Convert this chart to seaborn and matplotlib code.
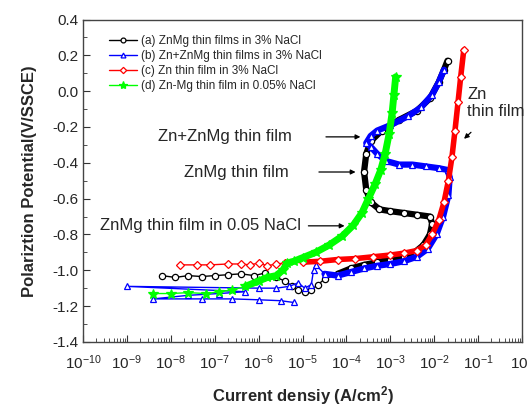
import numpy as np
import pandas as pd
import matplotlib
matplotlib.use('Agg')
import matplotlib.pyplot as plt
from matplotlib.lines import Line2D
from matplotlib.ticker import LogLocator, MultipleLocator, NullFormatter
import seaborn as sns

# (a) ZnMg thin films in 3% NaCl  -- log10 current, potential
a_logi = [-8.2, -7.9, -7.6, -7.3, -7.0, -6.7, -6.4, -6.1, -5.85, -5.6, -5.4, -5.25,
          -5.1, -4.95, -4.8, -4.65, -4.5, -4.2, -3.9, -3.6, -3.3, -3.0, -2.7, -2.45,
          -2.25, -2.1, -2.05, -2.1, -2.4, -2.7, -3.0, -3.25, -3.45, -3.55, -3.6,
          -3.55, -3.45, -3.2, -2.8, -2.4, -2.1, -1.9, -1.78, -1.7]
a_pot = [-1.03, -1.04, -1.03, -1.035, -1.03, -1.025, -1.02, -1.03, -1.015, -1.04, -1.06, -1.09,
         -1.11, -1.12, -1.11, -1.08, -1.05, -1.02, -0.99, -0.97, -0.955, -0.94, -0.925, -0.9,
         -0.86, -0.8, -0.74, -0.7, -0.69, -0.68, -0.67, -0.66, -0.62, -0.55, -0.45,
         -0.35, -0.28, -0.22, -0.16, -0.11, -0.04, 0.05, 0.12, 0.17]

# (b) Zn+ZnMg thin films in 3% NaCl
b_logi = [-5.2, -5.5, -6.0, -6.6, -7.3, -8.4, -7.6, -6.9, -6.3, -9.0, -6.0, -5.6,
          -5.3, -5.1, -4.95, -4.8, -4.75, -4.7, -4.5, -4.2, -3.9, -3.6, -3.3, -3.0,
          -2.7, -2.4, -2.15, -1.95, -1.8, -1.68, -1.65, -1.7, -1.9, -2.2, -2.5, -2.8,
          -3.1, -3.3, -3.45, -3.55, -3.45, -3.3, -3.0, -2.6, -2.3, -2.05, -1.9, -1.78]
b_pot = [-1.18, -1.17, -1.165, -1.16, -1.16, -1.16, -1.14, -1.13, -1.12, -1.09, -1.1, -1.1,
         -1.09, -1.07, -1.1, -1.08, -1.0, -0.97, -1.02, -1.03, -1.01, -0.99, -0.975, -0.965,
         -0.95, -0.925, -0.88, -0.8, -0.7, -0.58, -0.48, -0.44, -0.43, -0.42, -0.41, -0.41,
         -0.39, -0.35, -0.31, -0.29, -0.25, -0.22, -0.19, -0.14, -0.09, -0.02, 0.05, 0.12]

# (c) Zn thin film in 3% NaCl
c_logi = [-7.8, -7.4, -7.1, -6.7, -6.4, -6.2, -6.0, -5.8, -5.6, -5.4, -5.0, -4.6,
          -4.2, -3.8, -3.4, -3.0, -2.7, -2.4, -2.2, -2.05, -1.9, -1.78, -1.68, -1.6,
          -1.53, -1.46, -1.4, -1.33]
c_pot = [-0.97, -0.97, -0.97, -0.965, -0.965, -0.97, -0.96, -0.975, -0.965, -0.96, -0.955, -0.95,
         -0.94, -0.935, -0.925, -0.915, -0.905, -0.89, -0.86, -0.8, -0.72, -0.62, -0.5, -0.37,
         -0.22, -0.06, 0.08, 0.23]

# (d) Zn-Mg thin film in 0.05% NaCl
d_logi = [-8.4, -8.0, -7.6, -7.2, -6.9, -6.6, -6.3, -6.0, -5.8, -5.6, -5.45, -5.35,
          -5.2, -5.0, -4.7, -4.4, -4.1, -3.85, -3.65, -3.5, -3.35, -3.22, -3.12, -3.03,
          -2.96, -2.92, -2.88]
d_pot = [-1.13, -1.13, -1.125, -1.13, -1.12, -1.11, -1.09, -1.06, -1.04, -1.03, -1.0, -0.96,
         -0.95, -0.93, -0.9, -0.86, -0.81, -0.75, -0.68, -0.6, -0.52, -0.44, -0.35, -0.24,
         -0.12, -0.02, 0.08]

labels = ['(a) ZnMg thin films in 3% NaCl',
          '(b) Zn+ZnMg thin films in 3% NaCl',
          '(c) Zn thin film in 3% NaCl',
          '(d) Zn-Mg thin film in 0.05% NaCl']

sns.set_style('ticks')
plt.rcParams['font.family'] = ['Liberation Sans', 'DejaVu Sans']
plt.rcParams['mathtext.fontset'] = 'custom'
plt.rcParams['mathtext.rm'] = 'Liberation Sans'
plt.rcParams['mathtext.bf'] = 'Liberation Sans:bold'

fig = plt.figure(figsize=(5.28, 4.07), dpi=100)
ax = fig.add_axes([0.157, 0.160, 0.832, 0.792])
ax.set_xscale('log')

# colour, marker, face, marker size, index where the dense (thick) part starts, thick width
series = [
    (a_logi, a_pot, 'black', 'o', 'white', 4.5, 17, 4.5),
    (b_logi, b_pot, '#0000ff', '^', 'white', 4.5, 18, 4.5),
    (c_logi, c_pot, '#ff0000', 'D', 'white', 4, 10, 4),
    (d_logi, d_pot, '#00ff00', '*', '#00ff00', 7, 6, 5),
]
for logi, pot, col, mk, mfc, ms, k, lw in series:
    df = pd.DataFrame({'i': 10.0 ** np.array(logi), 'E': pot})
    # dense part of the scan drawn as a thick band under the markers
    sns.lineplot(data=df.iloc[k:], x='i', y='E', sort=False, estimator=None, ax=ax,
                 color=col, linewidth=lw)
    sns.lineplot(data=df, x='i', y='E', sort=False, estimator=None, ax=ax,
                 color=col, linewidth=1, marker=mk, markersize=ms,
                 markerfacecolor=mfc, markeredgecolor=col, markeredgewidth=0.9)

ax.set_xlim(1e-10, 1)
ax.set_ylim(-1.4, 0.4)
ax.xaxis.set_major_locator(LogLocator(base=10, numticks=12))
ax.xaxis.set_minor_locator(LogLocator(base=10, subs=np.arange(2, 10), numticks=12))
ax.xaxis.set_minor_formatter(NullFormatter())
ax.yaxis.set_major_locator(MultipleLocator(0.2))
ax.yaxis.set_minor_locator(MultipleLocator(0.1))
ax.yaxis.set_major_formatter(plt.FuncFormatter(lambda v, p: '%.1f' % v))
ax.tick_params(which='both', direction='in', labelsize=11, color='#333333')
ax.tick_params(which='major', length=5)
ax.tick_params(which='minor', length=3)
ax.tick_params(axis='x', which='major', pad=8)
for s in ax.spines.values():
    s.set_color('#444444')
    s.set_linewidth(1.0)

ax.set_xlabel('Current densiy (A/cm$\\mathbf{^2}$)', fontsize=12, fontweight='bold', labelpad=9)
ax.set_ylabel('Polariztion Potential(V/SSCE)', fontsize=12, fontweight='bold', labelpad=11)

handles = [Line2D([], [], color=c, lw=1, marker=m, ms=s, mfc=f, mec=c, mew=0.9)
           for c, m, f, s in [('black', 'o', 'white', 3.5),
                              ('#0000ff', '^', 'white', 3.5),
                              ('#ff0000', 'D', 'white', 3.2),
                              ('#00ff00', '*', '#00ff00', 6)]]
ax.legend(handles, labels, loc='upper left', bbox_to_anchor=(0.035, 0.985), frameon=False,
          fontsize=8.5, handlelength=2.4, handletextpad=0.3, labelspacing=0.25)

arrow = dict(arrowstyle='-|>', color='black', lw=0.9, mutation_scale=7)
notes = [('Zn+ZnMg thin film', 0.476, 0.547, 0.638, 0.636),
         ('ZnMg thin film', 0.468, 0.531, 0.627, 0.527),
         ('ZnMg thin film in 0.05 NaCl', 0.497, 0.507, 0.602, 0.360)]
for txt, xt, x0, x1, y in notes:
    ax.text(xt, y, txt, transform=ax.transAxes, fontsize=12, ha='right', va='center')
    ax.annotate('', xy=(x1, y), xytext=(x0, y), xycoords='axes fraction',
                textcoords='axes fraction', arrowprops=arrow)
ax.text(0.875, 0.74, 'Zn\nthin film', transform=ax.transAxes, fontsize=12,
        ha='left', va='center', linespacing=1.15)
ax.annotate('', xy=(0.863, 0.624), xytext=(0.888, 0.656), xycoords='axes fraction',
            textcoords='axes fraction', arrowprops=arrow)

fig.savefig('out.png', dpi=100)
